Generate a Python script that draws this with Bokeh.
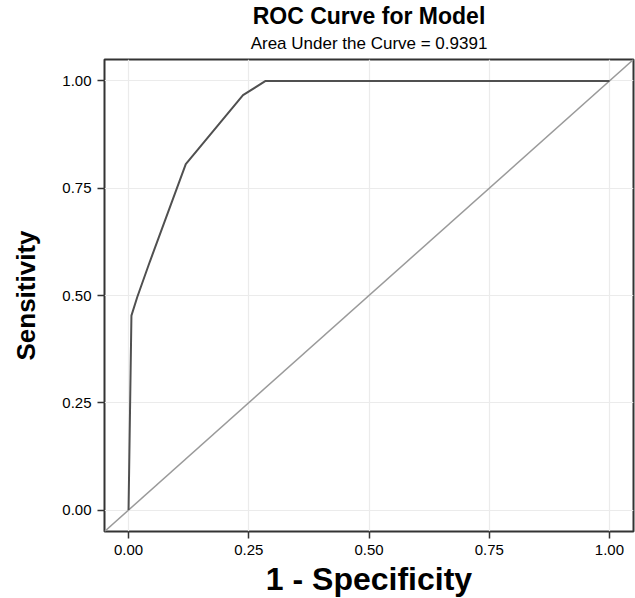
from bokeh.plotting import figure
from bokeh.models import Title, Range1d, FixedTicker
from bokeh.embed import file_html
from bokeh.resources import INLINE

# ROC curve points (1 - specificity, sensitivity)
fpr = [0.0, 0.006, 0.018, 0.044, 0.119, 0.238, 0.285, 1.0]
tpr = [0.0, 0.453, 0.496, 0.578, 0.806, 0.967, 1.0, 1.0]
diag = [-0.05, 1.05]
ticks = [0.0, 0.25, 0.5, 0.75, 1.0]
tick_labels = {0.0: "0.00", 0.25: "0.25", 0.5: "0.50", 0.75: "0.75", 1.0: "1.00"}
title_text = "ROC Curve for Model"
subtitle_text = "Area Under the Curve = 0.9391"
x_label = "1 - Specificity"
y_label = "Sensitivity"

FONT = "Liberation Sans"

p = figure(width=635, height=598, output_backend="svg", toolbar_location=None,
           x_range=Range1d(-0.05, 1.05), y_range=Range1d(-0.05, 1.05),
           min_border_left=104, min_border_right=2, min_border_top=59, min_border_bottom=66,
           title=None)

p.add_layout(Title(text=subtitle_text, text_font=FONT, text_font_size="17px",
                   text_font_style="normal", text_color="black", align="center",
                   standoff=13), "above")
p.add_layout(Title(text=title_text, text_font=FONT, text_font_size="23px",
                   text_font_style="bold", text_color="black", align="center",
                   standoff=-6), "above")

p.line(diag, diag, line_color="#9a9a9a", line_width=1.5)
p.line(fpr, tpr, line_color="#505050", line_width=2)

for ax in (p.xaxis, p.yaxis):
    ax.ticker = FixedTicker(ticks=ticks)
    ax.major_label_overrides = tick_labels
    ax.axis_line_color = None
    ax.major_tick_line_color = "#333333"
    ax.major_tick_line_width = 1.5
    ax.major_tick_out = 7
    ax.major_tick_in = 0
    ax.minor_tick_line_color = None
    ax.major_label_text_font = FONT
    ax.major_label_text_font_size = "15px"
    ax.major_label_text_color = "black"
    ax.axis_label_text_font = FONT
    ax.axis_label_text_font_style = "bold"
    ax.axis_label_text_color = "black"

p.yaxis.axis_label = y_label
p.yaxis.axis_label_text_font_size = "26px"
p.xaxis.major_label_standoff = 6
p.yaxis.major_label_standoff = 6
p.yaxis.axis_label_standoff = 18

# x-axis title as a panel title below the axis
p.add_layout(Title(text=x_label, text_font=FONT, text_font_size="32px",
                   text_font_style="bold", text_color="black", align="center",
                   vertical_align="bottom", text_line_height=0.7, standoff=3),
             "below")

p.xgrid.grid_line_color = "#ebebeb"
p.ygrid.grid_line_color = "#ebebeb"
p.xgrid.grid_line_width = 1.2
p.ygrid.grid_line_width = 1.2

p.outline_line_color = "#333333"
p.outline_line_width = 2
p.outline_line_alpha = 1
p.background_fill_color = "white"
p.border_fill_color = "white"

open("out.html", "w").write(file_html(p, INLINE))
